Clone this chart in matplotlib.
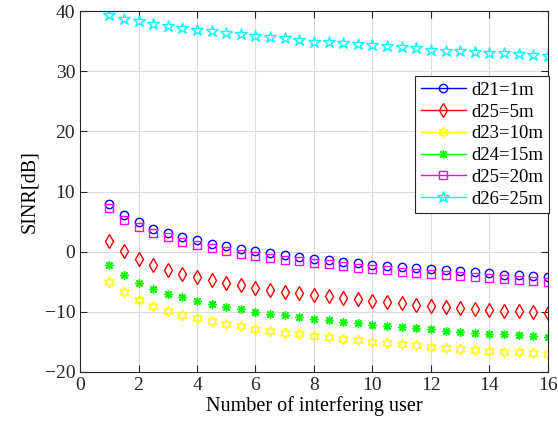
import numpy as np
import matplotlib
matplotlib.use('Agg')
import matplotlib.pyplot as plt

plt.rcParams['font.family'] = ['Liberation Serif', 'DejaVu Serif']
plt.rcParams['mathtext.fontset'] = 'stix'

# number of interfering users: 1, 1.5, ..., 16
users = np.arange(1, 16.01, 0.5)

sinr_d1 = [7.87, 6.10, 4.88, 3.82, 3.10, 2.44, 1.89, 1.33, 0.90, 0.45, 0.12, -0.27, -0.60, -0.93, -1.16,
           -1.43, -1.66, -1.93, -2.16, -2.38, -2.59, -2.76, -2.92, -3.09, -3.26, -3.42, -3.62, -3.80, -3.94, -4.08, -4.20]
sinr_d5 = [1.78, 0.07, -1.21, -2.21, -2.99, -3.70, -4.25, -4.70, -5.20, -5.58, -5.98, -6.36, -6.64, -6.91, -7.19,
           -7.38, -7.62, -7.86, -8.12, -8.36, -8.58, -8.80, -9.00, -9.18, -9.35, -9.50, -9.64, -9.79, -9.92, -10.07, -10.23]
sinr_d10 = [-5.08, -6.74, -7.97, -8.97, -9.80, -10.47, -10.96, -11.51, -12.01, -12.39, -12.79, -13.12, -13.46, -13.72, -14.00,
            -14.20, -14.50, -14.76, -15.02, -15.22, -15.40, -15.60, -15.78, -15.98, -16.15, -16.32, -16.48, -16.61, -16.73, -16.88, -17.00]
sinr_d15 = [-2.21, -3.92, -5.15, -6.15, -6.98, -7.57, -8.14, -8.69, -9.14, -9.52, -9.97, -10.30, -10.55, -10.85, -11.13,
            -11.37, -11.63, -11.92, -12.13, -12.32, -12.48, -12.68, -12.94, -13.12, -13.29, -13.48, -13.62, -13.74, -13.86, -14.00, -14.12]
sinr_d20 = [7.20, 5.30, 4.15, 3.16, 2.44, 1.66, 1.16, 0.56, 0.17, -0.33, -0.66, -1.05, -1.33, -1.60, -1.88,
            -2.10, -2.45, -2.74, -2.92, -3.10, -3.32, -3.55, -3.67, -3.87, -4.10, -4.25, -4.45, -4.58, -4.66, -4.82, -4.98]
sinr_d25 = [39.37, 38.77, 38.37, 37.94, 37.60, 37.27, 36.94, 36.66, 36.38, 36.16, 35.95, 35.72, 35.50, 35.17, 34.95,
            34.83, 34.72, 34.62, 34.45, 34.22, 34.00, 33.89, 33.60, 33.45, 33.34, 33.22, 33.12, 33.00, 32.89, 32.79, 32.62]

series = [
    (sinr_d1, 'd21=1m', 'b', 'o', 6),
    (sinr_d5, 'd25=5m', 'r', 'd', 7),
    (sinr_d10, 'd23=10m', 'yellow', (6, 1, 0), 7.5),
    (sinr_d15, 'd24=15m', 'lime', (8, 2, 0), 6),
    (sinr_d20, 'd25=20m', 'magenta', 's', 5.5),
    (sinr_d25, 'd26=25m', 'cyan', '*', 9),
]

fig = plt.figure(figsize=(5.58, 4.30), dpi=100)
ax = fig.add_axes([0.1434, 0.135, 0.8386, 0.839])

for vals, lab, col, mk, ms in series:
    # markers only on the axes, legend shows line + marker
    ax.plot(users, vals, linestyle='none', marker=mk, markersize=ms, color=col,
            markerfacecolor='none', markeredgewidth=1.0)
    ax.plot([], [], '-', marker=mk, markersize=ms, color=col, markerfacecolor='none',
            markeredgewidth=1.0, lw=1.0, label=lab)

ax.set_xlim(0, 16)
ax.set_ylim(-20, 40)
ax.set_xticks(np.arange(0, 17, 2))
ax.set_yticks(np.arange(-20, 41, 10))
ax.grid(True, color='#dcdcdc', lw=0.8)
ax.set_axisbelow(True)
ax.tick_params(direction='in', top=True, right=True, labelsize=14, length=5, colors='#262626')
for s in ax.spines.values():
    s.set_color('#262626')
    s.set_linewidth(0.8)
ax.set_xlabel('Number of interfering user', fontsize=14.5, labelpad=2)
ax.set_ylabel('SINR[dB]', fontsize=14.5, labelpad=4)

leg = ax.legend(loc='upper right', bbox_to_anchor=(549 / 558, 1 - 76 / 430),
                bbox_transform=fig.transFigure, fontsize=13.5, fancybox=False,
                edgecolor='#262626', framealpha=1, handlelength=2.4,
                borderpad=0.3, labelspacing=0.25, handletextpad=0.3, borderaxespad=0)
leg.get_frame().set_linewidth(0.8)

fig.savefig('out.png', dpi=100)
